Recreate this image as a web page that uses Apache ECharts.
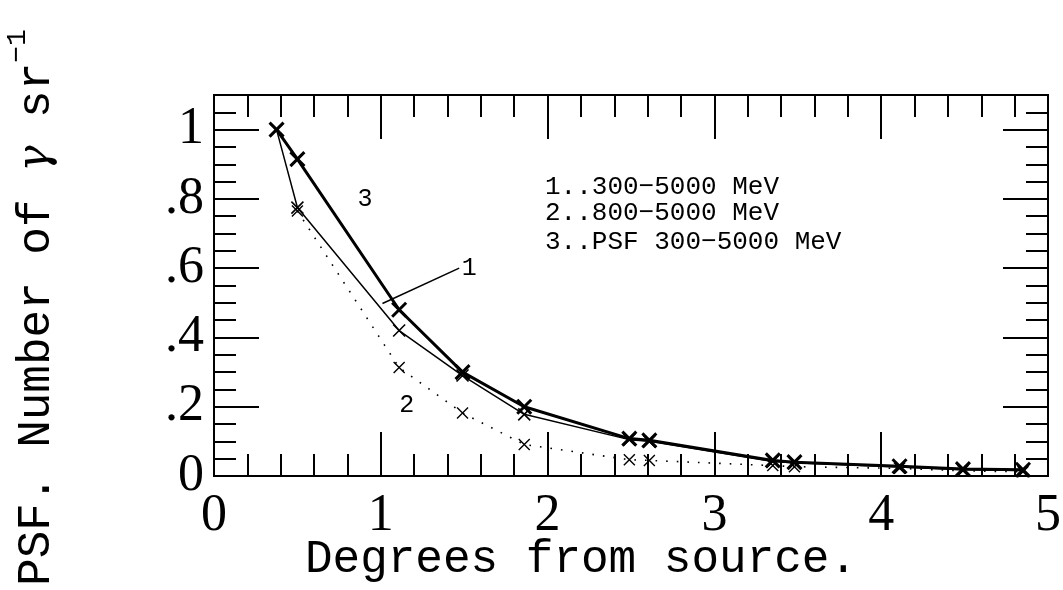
<!DOCTYPE html>
<html>
<head>
<meta charset="utf-8">
<script src="https://cdn.jsdelivr.net/npm/echarts@6/dist/echarts.min.js"></script>
<style>html,body{margin:0;padding:0;background:#fff;}#c{width:1063px;height:590px;}</style>
</head>
<body>
<div id="c"></div>
<script>
// Data
var degrees = [0.375, 0.5, 1.11, 1.49, 1.86, 2.49, 2.61, 3.35, 3.48, 4.11, 4.49, 4.85];
var psf300 = [1.0, 0.775, 0.42, 0.29, 0.178, 0.105, 0.10, 0.042, 0.038, 0.026, 0.018, 0.016];      // curve 1
var psf800 = [null, 0.765, 0.313, 0.182, 0.091, 0.047, 0.045, 0.03, 0.027, 0.022, 0.015, 0.012];  // curve 2
var psfModel = [1.0, 0.915, 0.48, 0.30, 0.20, 0.108, 0.103, 0.045, 0.04, 0.028, 0.02, 0.018];     // curve 3
var legendLines = ['1..300\u22125000 MeV', '2..800\u22125000 MeV', '3..PSF 300\u22125000 MeV'];
var curveLabels = [
  {name: '3', coord: [0.905, 0.80]},
  {name: '1', coord: [1.53, 0.60]},
  {name: '2', coord: [1.155, 0.205]}
];
var leader = [[1.01, 0.498], [1.47, 0.60]];
var xTicks = [0, 1, 2, 3, 4, 5];
var yTickLabels = {0: '0', 0.2: '.2', 0.4: '.4', 0.6: '.6', 0.8: '.8', 1: '1'};

function pairs(ys) { return degrees.map(function (x, i) { return [x, ys[i]]; }); }

var XSYM = 'path://M0,0L10,10M10,0L0,10';
var tickStyle = {color: '#000', width: 2};
var labelFont = {fontFamily: 'Liberation Serif', fontSize: 52, color: '#000'};

function xAx(pos, withLabels) {
  return {
    type: 'value', min: 0, max: 5, interval: 1, position: pos,
    axisLine: {show: true, onZero: false, lineStyle: {color: '#000', width: 2}},
    axisTick: {show: true, inside: true, length: 44, lineStyle: tickStyle},
    minorTick: {show: true, splitNumber: 5, length: 22, lineStyle: tickStyle},
    splitLine: {show: false}, minorSplitLine: {show: false},
    axisLabel: withLabels ? Object.assign({show: true, margin: 14,
      formatter: function (v) { return xTicks.indexOf(v) >= 0 ? String(v) : ''; }}, labelFont) : {show: false},
    name: withLabels ? 'Degrees from source.' : '',
    nameLocation: 'middle', nameGap: 61, nameMoveOverlap: false,
    nameTextStyle: {fontFamily: 'Liberation Mono', fontSize: 46, color: '#000', padding: [0, 100, 0, 0]}
  };
}
function yAx(pos, interval, len, withLabels) {
  return {
    type: 'value', min: 0, max: 1.1, interval: interval, position: pos,
    axisLine: {show: true, onZero: false, lineStyle: {color: '#000', width: 2}},
    axisTick: {show: true, inside: true, length: len, lineStyle: tickStyle},
    splitLine: {show: false},
    axisLabel: withLabels ? Object.assign({show: true, margin: 10, showMaxLabel: false,
      formatter: function (v) { var k = Math.round(v * 10) / 10; return yTickLabels[k] !== undefined ? yTickLabels[k] : ''; }}, labelFont) : {show: false},
    name: withLabels ? '{a|PSF. Number of }{g|\u03b3}{a| sr}{b|\u22121}' : '',
    nameLocation: 'middle', nameGap: 144, nameRotate: 90, nameMoveOverlap: false,
    nameTextStyle: {
      padding: [0, 44, 0, 0],
      rich: {
        a: {fontFamily: 'Liberation Mono', fontSize: 46, color: '#000', lineHeight: 66},
        g: {fontFamily: 'DejaVu Serif', fontStyle: 'italic', fontSize: 44, color: '#000', lineHeight: 66},
        b: {fontFamily: 'Liberation Mono', fontSize: 28, color: '#000', lineHeight: 28, verticalAlign: 'top'}
      }
    }
  };
}

var chart = echarts.init(document.getElementById('c'), null, {renderer: 'canvas'});
chart.setOption({
  animation: false,
  backgroundColor: '#fff',
  grid: {left: 214, right: 15, top: 95, bottom: 114, show: true, borderColor: '#000', borderWidth: 2,
    backgroundColor: 'transparent', containLabel: false, outerBoundsMode: 'none'},
  xAxis: [xAx('bottom', true), xAx('top', false)],
  yAxis: [yAx('left', 0.2, 45, true), yAx('left', 0.05, 22, false), yAx('right', 0.2, 45, false), yAx('right', 0.05, 22, false)],
  graphic: legendLines.map(function (t, i) {
    return {type: 'text', left: 545, top: [174, 200, 229][i], silent: true,
      style: {text: t, fontFamily: 'Liberation Mono', fontSize: 26, fill: '#000'}};
  }),
  series: [
    {
      name: '3', type: 'line', data: pairs(psfModel), showAllSymbol: true,
      symbol: XSYM, symbolSize: 14,
      itemStyle: {color: 'rgba(0,0,0,0)', borderColor: '#000', borderWidth: 3},
      lineStyle: {color: '#000', width: 3},
      markPoint: {
        symbol: 'circle', symbolSize: 1, itemStyle: {color: 'rgba(0,0,0,0)'},
        label: {show: true, position: 'inside', color: '#000', fontFamily: 'Liberation Mono', fontSize: 25, formatter: function (p) { return p.name; }},
        data: curveLabels.map(function (c) { return {name: c.name, coord: c.coord}; })
      },
      markLine: {
        silent: true, symbol: ['none', 'none'], label: {show: false},
        lineStyle: {color: '#000', width: 1.5, type: 'solid'},
        data: [[{coord: leader[0]}, {coord: leader[1]}]]
      }
    },
    {
      name: '1', type: 'line', data: pairs(psf300), showAllSymbol: true,
      symbol: XSYM, symbolSize: 12,
      itemStyle: {color: 'rgba(0,0,0,0)', borderColor: '#000', borderWidth: 1.6},
      lineStyle: {color: '#000', width: 1.5}
    },
    {
      name: '2', type: 'line', data: pairs(psf800), showAllSymbol: true, connectNulls: false,
      symbol: XSYM, symbolSize: 11,
      itemStyle: {color: 'rgba(0,0,0,0)', borderColor: '#000', borderWidth: 1.4},
      lineStyle: {color: '#000', width: 1.6, type: [1.6, 9]}
    }
  ]
});
</script>
</body>
</html>
